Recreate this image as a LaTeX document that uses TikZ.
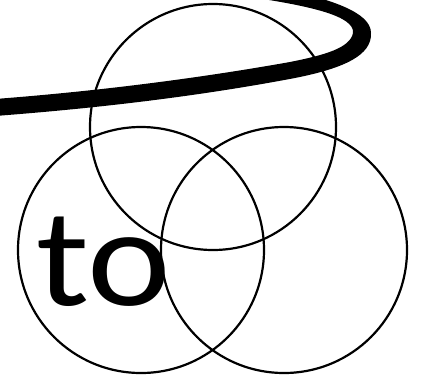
\documentclass[tikz,border=0pt]{standalone}
\usepackage{fontspec}
\setmainfont{Carlito}
\usetikzlibrary{positioning, calc}

\begin{document}
\begin{tikzpicture}[
  x=1pt, y=-1pt,
  ring/.style={circle, draw, line width=2.2pt, minimum size=246pt, inner sep=0pt},
  word/.style={inner sep=0pt, anchor=base west, font=\fontsize{140}{142}\selectfont},
]
\useasboundingbox (0,0) rectangle (422,383);

%% ---- three circles ----
\node[ring] (top)   at (213,127) {};
\node[ring] (left)  at (141,250) {};
\node[ring] (right) at (284,250) {};

%% ---- label ----
\node[word] (to) at (36,305) {\scalebox{1.13}[1]{to}};

%% ---- thick swoosh (tapered) ----
\fill (-5,116) .. controls (100,108) and (200,96) .. (295,78)
      .. controls (345,68) and (372,55) .. (371,33)
      .. controls (371,12) and (330,0) .. (290,-10)
      -- (250,-3)
      .. controls (310,6) and (355,16) .. (353,33)
      .. controls (350,48) and (325,55) .. (290,62)
      .. controls (200,78) and (100,91) .. (-5,99) -- cycle;

\end{tikzpicture}
\end{document}
